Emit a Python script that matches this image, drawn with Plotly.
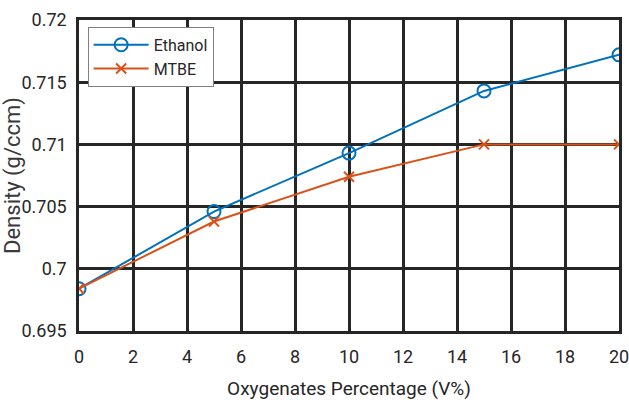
import plotly.graph_objects as go

# Oxygenate blend percentage (V%)
oxygenate_pct = [0, 5, 10, 15, 20]

# Measured density (g/ccm) for each oxygenate
ethanol_density = [0.6984, 0.7046, 0.7093, 0.7143, 0.7172]
mtbe_density = [0.6984, 0.7038, 0.7074, 0.7100, 0.7100]

x_ticks = [0, 2, 4, 6, 8, 10, 12, 14, 16, 18, 20]
y_ticks = [0.695, 0.7, 0.705, 0.71, 0.715, 0.72]
y_tick_text = ["0.695", "0.7", "0.705", "0.71", "0.715", "0.72"]

FONT = "Roboto, sans-serif"
GRID = "#262626"

fig = go.Figure()
fig.add_trace(go.Scatter(
    x=oxygenate_pct, y=ethanol_density, name="Ethanol",
    mode="lines+markers",
    line=dict(color="#0072BD", width=2),
    marker=dict(symbol="circle-open", size=13, color="#0072BD",
                line=dict(width=2, color="#0072BD")),
))
fig.add_trace(go.Scatter(
    x=oxygenate_pct, y=mtbe_density, name="MTBE",
    mode="lines+markers",
    line=dict(color="#D95319", width=2),
    marker=dict(symbol="x-thin-open", size=10, color="#D95319",
                line=dict(width=2, color="#D95319")),
))

fig.update_layout(
    width=629, height=400,
    margin=dict(l=79, r=10, t=20, b=69, autoexpand=False),
    paper_bgcolor="white", plot_bgcolor="white",
    font=dict(family=FONT, size=18, color="#262626"),
    showlegend=True,
    legend=dict(
        x=0.016, y=0.978, xanchor="left", yanchor="top",
        bgcolor="white", bordercolor="#7f7f7f", borderwidth=1,
        font=dict(family=FONT, size=16, color="#262626"),
        tracegroupgap=2, itemwidth=55,
    ),
    xaxis=dict(
        range=[0, 20], tickvals=x_ticks, automargin=False,
        ticklabeloverflow="allow",
        showgrid=True, gridcolor=GRID, gridwidth=2.5,
        showline=True, linecolor=GRID, linewidth=2.5, mirror=True,
        zeroline=False, ticks="", ticklabelstandoff=8,
        title=dict(text="Oxygenates Percentage (V%)", standoff=16,
                   font=dict(family=FONT, size=19)),
    ),
    yaxis=dict(
        range=[0.695, 0.72], tickvals=y_ticks, ticktext=y_tick_text,
        automargin=False,
        showgrid=True, gridcolor=GRID, gridwidth=2.5,
        showline=True, linecolor=GRID, linewidth=2.5, mirror=True,
        zeroline=False, ticks="", ticklabelstandoff=6,
        title=dict(text="Density (g/ccm)", standoff=0,
                   font=dict(family=FONT, size=22, color="#3a3a3a")),
    ),
)

fig.write_html("out.html")
